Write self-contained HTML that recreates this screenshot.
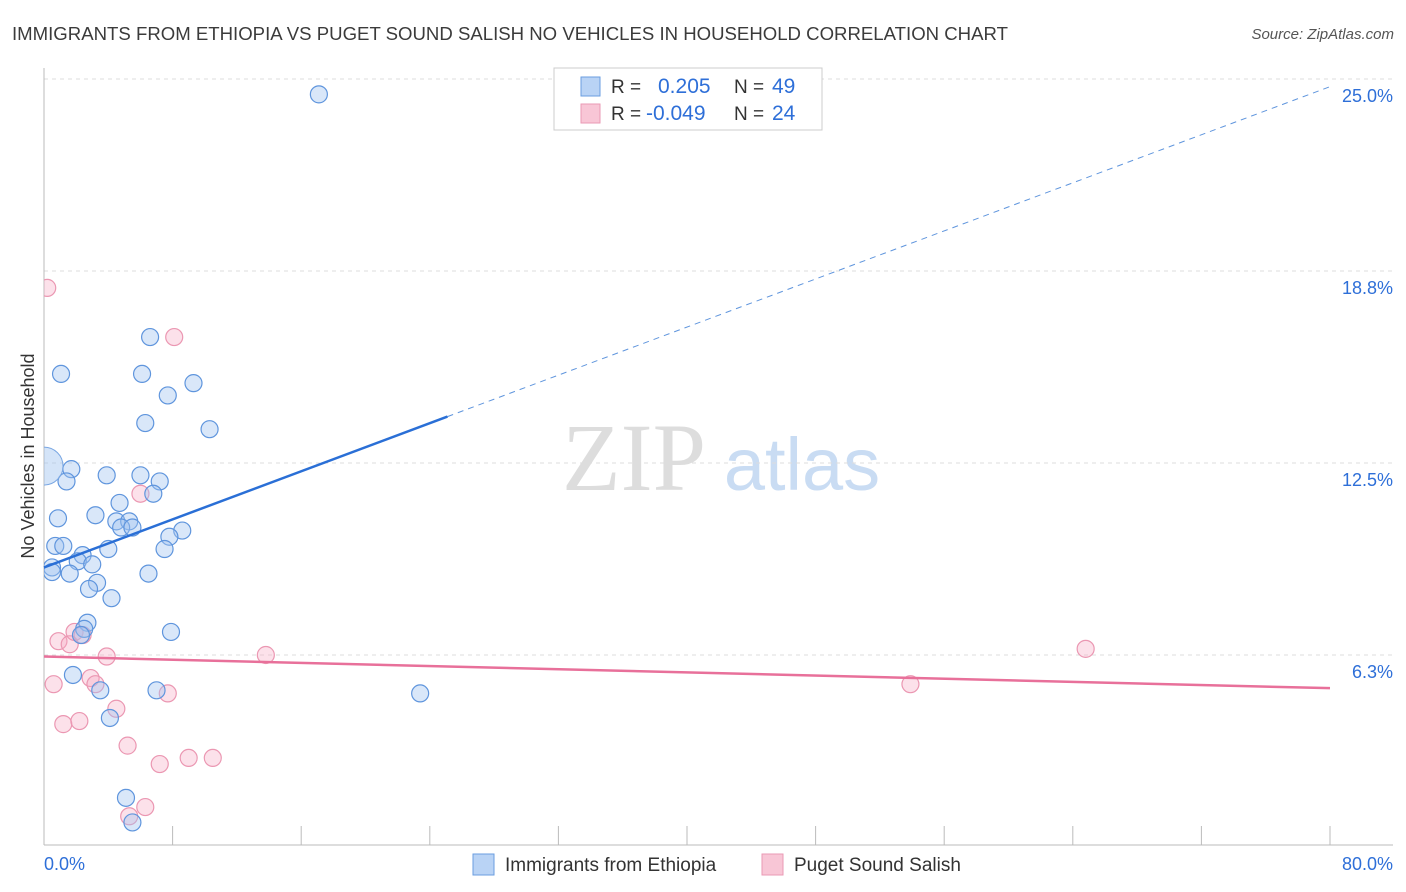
<!DOCTYPE html>
<html><head><meta charset="utf-8"><style>
body{margin:0;background:#fff;font-family:"Liberation Sans",sans-serif;}
svg{display:block}
</style></head><body>
<svg width="1406" height="892" xmlns="http://www.w3.org/2000/svg">
<defs><clipPath id="plotclip"><rect x="44" y="60" width="1360" height="790"/></clipPath></defs>
<text x="12" y="40" font-size="18.6" fill="#3b3b3b">IMMIGRANTS FROM ETHIOPIA VS PUGET SOUND SALISH NO VEHICLES IN HOUSEHOLD CORRELATION CHART</text>
<text x="1394" y="39" font-size="15" fill="#555" font-style="italic" text-anchor="end">Source: ZipAtlas.com</text>
<text x="34" y="456" font-size="18" fill="#333" text-anchor="middle" transform="rotate(-90 34 456)">No Vehicles in Household</text>
<g>
<text x="634" y="490" font-size="96" fill="#ddd" font-family="Liberation Serif,serif" text-anchor="middle">ZIP</text>
<text x="802" y="490" font-size="74" fill="#c9dcf3" text-anchor="middle">atlas</text>
</g>
<g id="grid"></g>
<g id="axes"></g>
<g id="pts" clip-path="url(#plotclip)"></g>
<g id="lines"></g>
<g>
<rect x="554" y="68" width="268" height="62" fill="#fff" stroke="#ccc"/>
<rect x="581" y="77" width="19" height="19" fill="#b9d3f5" stroke="#6a9ee0"/>
<rect x="581" y="104" width="19" height="19" fill="#f8c6d6" stroke="#ea9ab4"/>
<text x="611" y="93" font-size="19" fill="#333">R = </text><text x="658" y="93" font-size="21" fill="#2e6fd8">0.205</text>
<text x="734" y="93" font-size="19" fill="#333">N = </text><text x="772" y="93" font-size="21" fill="#2e6fd8">49</text>
<text x="611" y="120" font-size="19" fill="#333">R = </text><text x="646" y="120" font-size="21" fill="#2e6fd8">-0.049</text>
<text x="734" y="120" font-size="19" fill="#333">N = </text><text x="772" y="120" font-size="21" fill="#2e6fd8">24</text>
</g>
<g>
<rect x="473" y="854" width="21" height="21" fill="#b9d3f5" stroke="#6a9ee0"/>
<text x="505" y="871" font-size="19" fill="#333">Immigrants from Ethiopia</text>
<rect x="762" y="854" width="21" height="21" fill="#f8c6d6" stroke="#ea9ab4"/>
<text x="794" y="871" font-size="19" fill="#333">Puget Sound Salish</text>
</g>
</svg>
<script>
const blueX=[17.1,6.6,1.06,6.1,7.7,9.3,6.3,10.3,1.7,3.9,6.0,1.4,7.2,6.8,4.7,0.87,3.2,4.5,5.3,4.8,5.5,8.6,7.8,0.7,1.2,4.0,7.5,2.4,2.1,3.0,0.5,0.5,1.6,6.5,3.3,2.8,4.2,2.7,2.5,2.3,7.9,1.8,3.5,7.0,23.4,4.1,5.1,5.5];
const blueY=[24.5,16.6,15.4,15.4,14.7,15.1,13.8,13.6,12.3,12.1,12.1,11.9,11.9,11.5,11.2,10.7,10.8,10.6,10.6,10.4,10.4,10.3,10.1,9.8,9.8,9.7,9.7,9.5,9.3,9.2,9.1,8.95,8.9,8.9,8.6,8.4,8.1,7.3,7.1,6.9,7.0,5.6,5.1,5.1,5.0,4.2,1.6,0.8];
const bigX=[0], bigY=[12.4];
const pinkX=[0.2,8.1,6.0,0.9,1.6,1.9,2.4,3.9,13.8,64.8,0.6,2.9,3.2,7.7,53.9,4.5,1.2,2.2,5.2,7.2,9.0,10.5,5.3,6.3];
const pinkY=[18.2,16.6,11.5,6.7,6.6,7.0,6.9,6.2,6.25,6.45,5.3,5.5,5.3,5.0,5.3,4.5,4.0,4.1,3.3,2.7,2.9,2.9,1.0,1.3];
const yTicks=[25,18.75,12.5,6.25];
const yTickLabels=["25.0%","18.8%","12.5%","6.3%"];
const xTicks=[0,8,16,24,32,40,48,56,64,72,80];
const xEndLabels=["0.0%","80.0%"];
const blueTrend=[9.1,24.75];
const blueSolidEnd=25.1;
const pinkTrend=[6.2,5.17];
const X=v=>44+v*1286/80, Y=v=>847-v*768/25;
const NS="http://www.w3.org/2000/svg";
function mk(p,t,a){const e=document.createElementNS(NS,t);for(const k in a)e.setAttribute(k,a[k]);p.appendChild(e);return e;}
const g=document.getElementById('grid'),ax=document.getElementById('axes'),pts=document.getElementById('pts'),ln=document.getElementById('lines');
yTicks.forEach((t,i)=>{
 const l=mk(g,'line',{x1:44,x2:1393,y1:Y(t),y2:Y(t),stroke:'#ddd','stroke-dasharray':'4,4'});
 
 
 const tx=mk(g,'text',{x:1393,y:Y(t)+23,'font-size':18,fill:'#2e6fd8','text-anchor':'end'});
 tx.textContent=yTickLabels[i];
 
 
});
let a=mk(ax,'line',{x1:44,x2:44,y1:68,y2:845,stroke:'#bbb'});


a=mk(ax,'line',{x1:44,x2:1393,y1:845,y2:845,stroke:'#bbb'});


xTicks.forEach(t=>{const l=mk(ax,'line',{x1:X(t),x2:X(t),y1:826,y2:845,stroke:'#bbb'});
 
 });
let t0=mk(ax,'text',{x:44,y:870,'font-size':18,fill:'#2e6fd8'});t0.textContent=xEndLabels[0];


let t1=mk(ax,'text',{x:1393,y:870,'font-size':18,fill:'#2e6fd8','text-anchor':'end'});t1.textContent=xEndLabels[1];


pinkX.forEach((x,i)=>{const c=mk(pts,'circle',{cx:X(x),cy:Y(pinkY[i]),r:8.5,fill:'rgba(246,170,195,0.35)',stroke:'#eb97b2','stroke-width':1.2});
 
 });
blueX.forEach((x,i)=>{const c=mk(pts,'circle',{cx:X(x),cy:Y(blueY[i]),r:8.5,fill:'rgba(160,196,240,0.4)',stroke:'#5f95dd','stroke-width':1.2});
 
 });
bigX.forEach((x,i)=>{const c=mk(pts,'circle',{cx:X(x),cy:Y(bigY[i]),r:19,fill:'rgba(160,196,240,0.45)',stroke:'#7aa7e3','stroke-width':1});
 
 });
const by=x=>blueTrend[0]+(blueTrend[1]-blueTrend[0])*x/80;
let l1=mk(ln,'line',{x1:X(0),y1:Y(by(0)),x2:X(blueSolidEnd),y2:Y(by(blueSolidEnd)),stroke:'#2a6fd6','stroke-width':2.5});


let l2=mk(ln,'line',{x1:X(blueSolidEnd),y1:Y(by(blueSolidEnd)),x2:X(80),y2:Y(by(80)),stroke:'#5f95dd','stroke-width':1,'stroke-dasharray':'6,5'});


let l3=mk(ln,'line',{x1:X(0),y1:Y(pinkTrend[0]),x2:X(80),y2:Y(pinkTrend[1]),stroke:'#e8709a','stroke-width':2.5});


</script>
</body></html>
